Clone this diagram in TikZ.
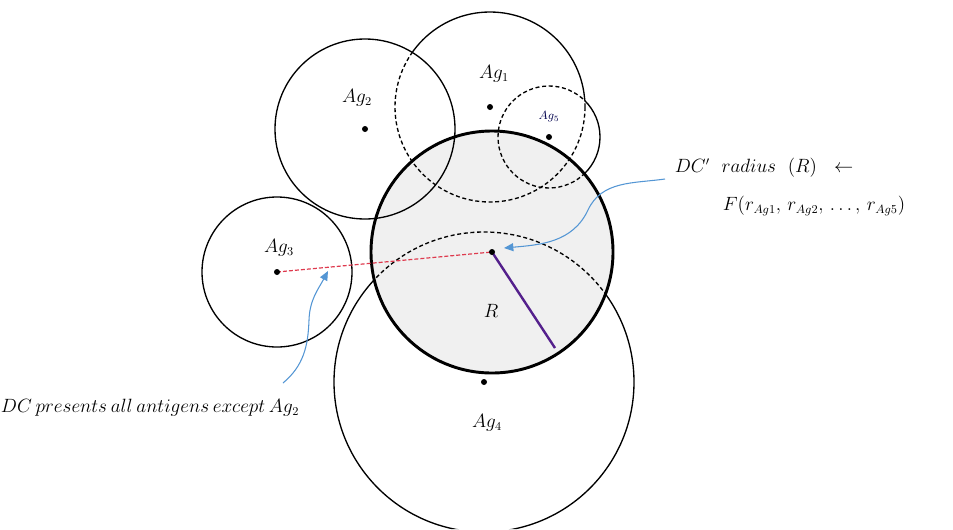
\documentclass[tikz,border=0pt]{standalone}
\usepackage{amsmath,amssymb}
\usepackage{tikz}
\usepackage{xcolor}
\usetikzlibrary{arrows.meta}
\definecolor{dcgray}{gray}{0.94}
\definecolor{callblue}{RGB}{84,150,212}
\definecolor{linkred}{RGB}{222,58,78}
\definecolor{radpurple}{RGB}{84,32,140}

\begin{document}
\begin{tikzpicture}[x=0.75pt, y=-0.75pt, font=\fontsize{13.5}{16}\selectfont,
    agline/.style={line width=1pt},
    agdash/.style={line width=1pt, dash pattern=on 3pt off 2pt},
    dot/.style={circle, fill, inner sep=0pt, minimum size=4.5pt},
    callout/.style={callblue, line width=0.8pt, -{Triangle[length=7pt,width=6pt]}}]
  \useasboundingbox (0,0) rectangle (953,529);
  % centres of the antigen circles and of the DC
  \coordinate (dc)  at (492,252);
  \coordinate (ag1) at (490,107);
  \coordinate (ag2) at (365,129);
  \coordinate (ag3) at (277,272);
  \coordinate (ag4) at (484,382);
  \coordinate (ag5) at (549,137);
  \fill[dcgray] (dc) circle (121);
  % fully solid circles
  \draw[agline] (ag2) circle (90);
  \draw[agline] (ag3) circle (75);
  % dashed where they overlap other circles
  \begin{scope}
    \clip (ag2) circle (90) (dc) circle (121) (ag5) circle (51);
    \draw[agdash] (ag1) circle (95);
  \end{scope}
  \begin{scope}[even odd rule]
    \clip (0,0) rectangle (953,529) (ag2) circle (90);
    \clip (0,0) rectangle (953,529) (dc) circle (121);
    \clip (0,0) rectangle (953,529) (ag5) circle (51);
    \draw[agline] (ag1) circle (95);
  \end{scope}
  \begin{scope}
    \clip (ag1) circle (95) (dc) circle (121);
    \draw[agdash] (ag5) circle (51);
  \end{scope}
  \begin{scope}[even odd rule]
    \clip (0,0) rectangle (953,529) (ag1) circle (95);
    \clip (0,0) rectangle (953,529) (dc) circle (121);
    \draw[agline] (ag5) circle (51);
  \end{scope}
  \begin{scope}
    \clip (dc) circle (121);
    \draw[agdash] (ag4) circle (150);
  \end{scope}
  \begin{scope}[even odd rule]
    \clip (0,0) rectangle (953,529) (dc) circle (121);
    \draw[agline] (ag4) circle (150);
  \end{scope}
  \draw[line width=2.2pt] (dc) circle (121);
  % links from the DC centre
  \coordinate (redge) at (555,348);
  \draw[linkred, line width=0.9pt, dash pattern=on 3pt off 1.5pt] (ag3) -- (dc);
  \draw[radpurple, line width=1.8pt] (dc) -- (redge);
  \foreach \c in {dc,ag1,ag2,ag3,ag4,ag5}
    \node[dot] (\c dot) at (\c) {};
  % labels
  \node (l1) at (494,74) {$Ag_1$};
  \node (l2) at (357,98) {$Ag_2$};
  \node (l3) at (279,248) {$Ag_3$};
  \node (l4) at (487,423) {$Ag_4$};
  \node[font=\small, black!70!blue] (l5) at (549,117) {$Ag_5$};
  \node (lr) at (491,311) {$R$};
  \node (radius) at (764,168) {$DC'\mkern11mu radius\mkern11mu (R)\mkern11mu \leftarrow$};
  \node (func) at (814,206) {$F(r_{Ag1},\,r_{Ag2},\,\ldots,\,r_{Ag5})$};
  \node (except) at (150,408)
    {$DC\mkern3.5mu presents\mkern3.5mu all\mkern3.5mu antigens\mkern3.5mu except\mkern3.5mu Ag_2$};
  % callouts
  \coordinate (rstart) at (665,179);
  \coordinate (rtip) at (504,248);
  \coordinate (estart) at (283,383);
  \coordinate (etip) at (328,271);
  \draw[callout] (rstart) to[out=188, in=65] (588,210) to[out=245, in=5] (rtip);
  \draw[callout] (estart) to[out=40, in=268] (309,320) to[out=88, in=242] (etip);
\end{tikzpicture}
\end{document}
